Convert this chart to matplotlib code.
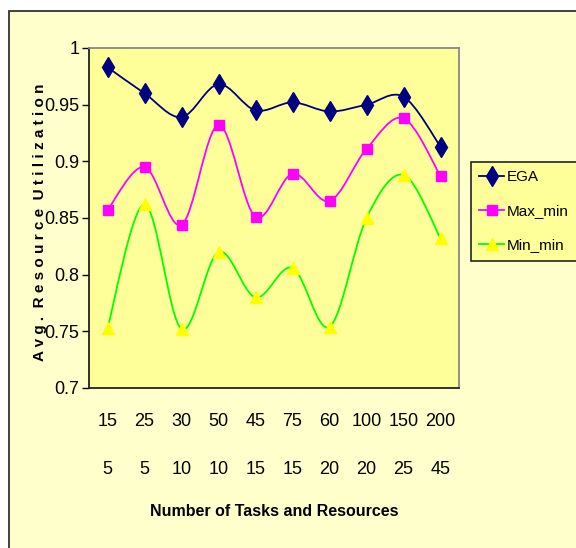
import numpy as np
import matplotlib
matplotlib.use("Agg")
import matplotlib.pyplot as plt
from matplotlib.path import Path
from matplotlib.patches import PathPatch, Rectangle
from matplotlib.lines import Line2D

tasks = ["15", "25", "30", "50", "45", "75", "60", "100", "150", "200"]
resources = ["5", "5", "10", "10", "15", "15", "20", "20", "25", "45"]

ega = [0.983, 0.960, 0.939, 0.968, 0.945, 0.952, 0.944, 0.950, 0.957, 0.913]
max_min = [0.857, 0.895, 0.844, 0.932, 0.851, 0.889, 0.865, 0.911, 0.938, 0.887]
min_min = [0.753, 0.862, 0.752, 0.820, 0.780, 0.806, 0.754, 0.850, 0.888, 0.832]

plt.rcParams["font.family"] = ["Liberation Sans", "DejaVu Sans"]


def smooth_path(xs, ys):
    # Catmull-Rom style bezier, like spreadsheet "smoothed line"
    pts = np.column_stack([xs, ys]).astype(float)
    n = len(pts)
    verts = [pts[0]]
    codes = [Path.MOVETO]
    for i in range(n - 1):
        p0 = pts[i - 1] if i > 0 else pts[i]
        p1 = pts[i]
        p2 = pts[i + 1]
        p3 = pts[i + 2] if i + 2 < n else pts[i + 1]
        c1 = p1 + (p2 - p0) / 6.0
        c2 = p2 - (p3 - p1) / 6.0
        verts += [c1, c2, p2]
        codes += [Path.CURVE4] * 3
    return Path(verts, codes)


fig = plt.figure(figsize=(5.76, 5.48), dpi=100)
fig.patch.set_facecolor("white")

# outer chart area
fig.patches.append(Rectangle((9 / 576, -0.01), 1.0, 1 - 11 / 548 + 0.01,
                             transform=fig.transFigure, facecolor="#FFFFCC",
                             edgecolor="#333333", linewidth=1.3, zorder=-5))

ax = fig.add_axes([89 / 576, 160 / 548, 370 / 576, 340 / 548])
ax.set_facecolor("#FFFF99")

x = np.arange(len(tasks))
series = [
    ("EGA", ega, "#000080", "d", "#000080", 10),
    ("Max_min", max_min, "#FF00FF", "s", "#FF00FF", 7.5),
    ("Min_min", min_min, "#00FF00", "^", "#FFFF00", 9),
]

handles = []
for name, vals, lc, mk, mc, ms in series:
    ax.add_patch(PathPatch(smooth_path(x, vals), facecolor="none",
                           edgecolor=lc, linewidth=1.3, zorder=2))
    ax.plot(x, vals, linestyle="none", marker=mk, markersize=ms,
            markerfacecolor=mc, markeredgecolor=mc, zorder=3)
    handles.append(Line2D([], [], color=lc, linewidth=1.3, marker=mk,
                          markersize=ms, markerfacecolor=mc,
                          markeredgecolor=mc, label=name))

ax.set_xlim(-0.5, len(tasks) - 0.5)
ax.set_ylim(0.7, 1.0)
ax.set_yticks(np.arange(0.7, 1.001, 0.05))
ax.set_yticklabels(["0.7", "0.75", "0.8", "0.85", "0.9", "0.95", "1"])
ax.tick_params(axis="y", direction="out", length=5, width=1, labelsize=13,
               pad=2, colors="black")
ax.set_xticks([])

for s in ["left", "bottom"]:
    ax.spines[s].set_color("#222222")
    ax.spines[s].set_linewidth(1.3)
for s in ["top", "right"]:
    ax.spines[s].set_color("#888888")
    ax.spines[s].set_linewidth(1.3)

# two rows of category labels under the axis
for i in x:
    ax.text(i, -0.10, tasks[i], transform=ax.get_xaxis_transform(),
            ha="center", va="center", fontsize=13)
    ax.text(i, -0.24, resources[i], transform=ax.get_xaxis_transform(),
            ha="center", va="center", fontsize=13)

fig.text(274 / 576, 1 - 512 / 548, "Number of Tasks and Resources",
         ha="center", va="center", fontsize=11.5, fontweight="bold")
fig.text(40 / 576, 1 - 222 / 548, "A v g .  R e s o u r c e  U t i l i z a t i o n",
         ha="center", va="center", rotation=90, fontsize=11,
         fontweight="bold")

leg = fig.legend(handles=handles, loc="upper left",
                 bbox_to_anchor=(471 / 576, 1 - 162 / 548),
                 frameon=True, fontsize=11, handlelength=1.6,
                 handletextpad=0.2, borderpad=0.55, borderaxespad=0,
                 labelspacing=1.3, fancybox=False)
leg.get_frame().set_facecolor("#FFFF99")
leg.get_frame().set_edgecolor("#222222")
leg.get_frame().set_linewidth(1.2)
leg.get_frame().set_alpha(1)

fig.savefig("out.png", dpi=100)
